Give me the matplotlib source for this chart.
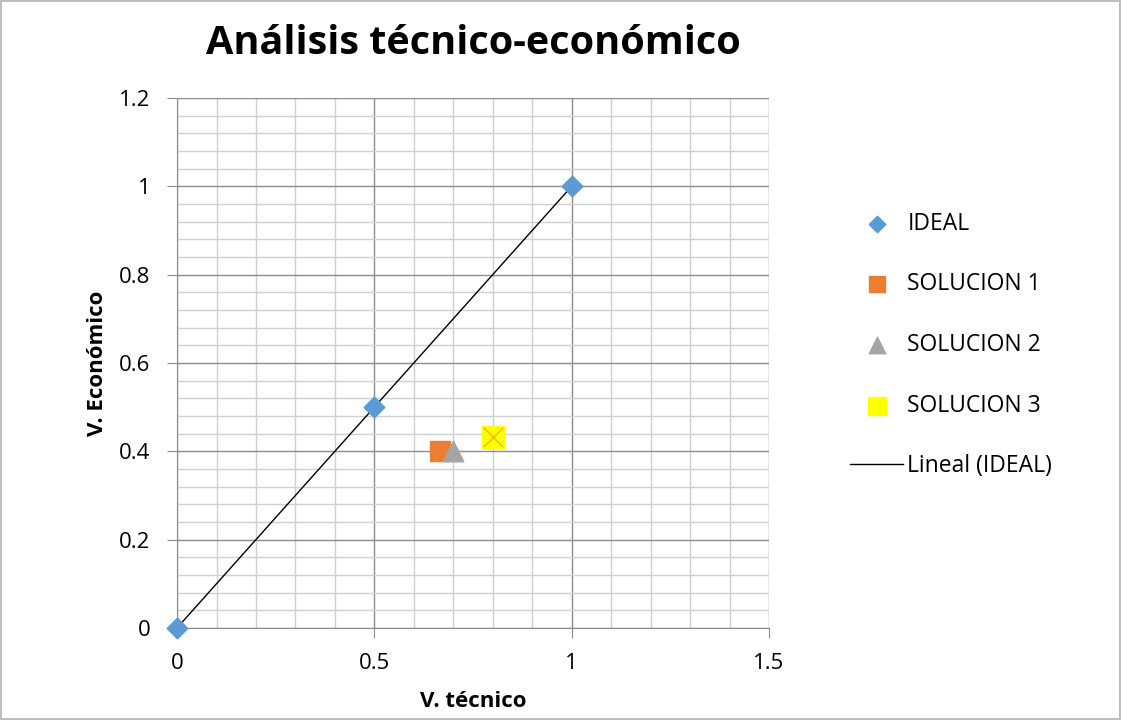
import matplotlib
matplotlib.use("Agg")
import matplotlib.pyplot as plt
import numpy as np
from matplotlib.ticker import MultipleLocator, FuncFormatter

plt.rcParams["font.family"] = ["Open Sans", "DejaVu Sans"]

# data
ideal_x = [0, 0.5, 1]
ideal_y = [0, 0.5, 1]
sol1 = (0.667, 0.4)
sol2 = (0.70, 0.4)
sol3 = (0.80, 0.433)

fig = plt.figure(figsize=(11.21, 7.2), dpi=100)
fig.patch.set_edgecolor("#bfbfbf")
fig.patch.set_linewidth(1.5)
ax = fig.add_axes([0.158, 0.128, 0.528, 0.736])

ax.set_xlim(0, 1.5)
ax.set_ylim(0, 1.2)
ax.xaxis.set_major_locator(MultipleLocator(0.5))
ax.xaxis.set_minor_locator(MultipleLocator(0.1))
ax.yaxis.set_major_locator(MultipleLocator(0.2))
ax.yaxis.set_minor_locator(MultipleLocator(0.04))
ax.grid(which="major", color="#8c8c8c", linewidth=1.0)
ax.grid(which="minor", color="#d0d0d0", linewidth=1.0)
ax.set_axisbelow(True)
for s in ["top", "right"]:
    ax.spines[s].set_visible(False)
for s in ["left", "bottom"]:
    ax.spines[s].set_color("#8c8c8c")
ax.tick_params(which="major", direction="out", length=7, color="#8c8c8c", labelsize=16)
ax.tick_params(axis="y", which="major", pad=12)
ax.tick_params(axis="x", which="major", pad=11)
ax.tick_params(which="minor", length=0)
ax.xaxis.set_major_formatter(FuncFormatter(lambda v, p: f"{v:g}"))
ax.yaxis.set_major_formatter(FuncFormatter(lambda v, p: f"{v:g}"))

# trend line
coef = np.polyfit(ideal_x, ideal_y, 1)
tx = np.array([min(ideal_x), max(ideal_x)])
ax.plot(tx, np.polyval(coef, tx), color="black", linewidth=1.0, label="Lineal (IDEAL)", zorder=3)

ax.scatter(ideal_x, ideal_y, marker="D", s=110, color="#5b9bd5", label="IDEAL", zorder=4, clip_on=False)
ax.scatter(*sol1, marker="s", s=200, color="#ed7d31", label="SOLUCION 1", zorder=4)
ax.scatter(*sol2, marker="^", s=220, color="#a5a5a5", label="SOLUCION 2", zorder=4)
ax.scatter(*sol3, marker="s", s=260, color="#ffff00", label="SOLUCION 3", zorder=4)
ax.scatter(*sol3, marker="x", s=200, color="#f5b800", linewidths=1.0, zorder=5)

ax.set_xlabel("V. técnico", fontsize=16, fontweight="bold", labelpad=12)
ax.set_ylabel("V. Económico", fontsize=16, fontweight="bold", labelpad=8)
fig.text(0.422, 0.94, "Análisis técnico-económico", fontsize=28.5, fontweight="bold",
         ha="center", va="center")

h, l = ax.get_legend_handles_labels()
order = [1, 2, 3, 4, 0]
leg = fig.legend([h[i] for i in order], [l[i] for i in order], loc="center left",
                 bbox_to_anchor=(0.740, 0.521), frameon=False, fontsize=16.5,
                 labelspacing=1.6, handlelength=2.3, handletextpad=0.2, markerscale=0.8)

fig.savefig("out.png", dpi=100)
